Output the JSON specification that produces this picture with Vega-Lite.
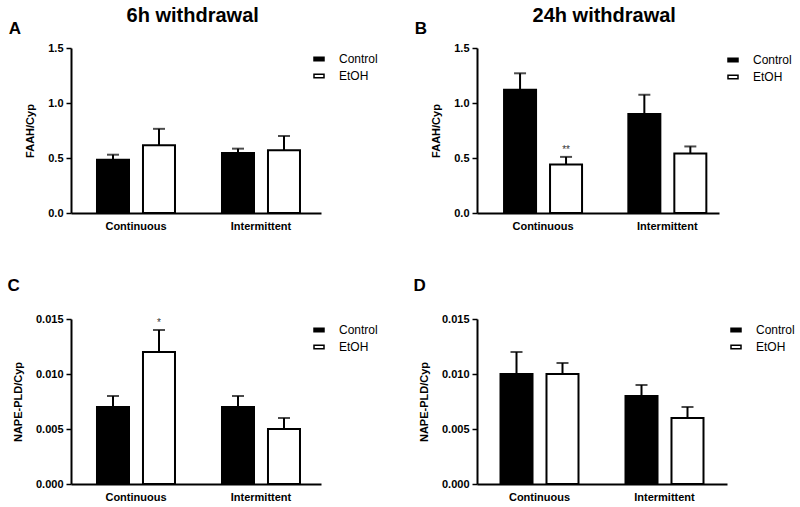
{
  "$schema": "https://vega.github.io/schema/vega-lite/v6.json",
  "padding": {"left": 7, "top": 6, "right": 0, "bottom": 0},
  "background": "white",
  "config": {
    "font": "Liberation Sans",
    "view": {"stroke": null},
    "axis": {"domainColor": "black", "domainWidth": 2, "tickColor": "black", "tickWidth": 1.5, "labelColor": "black", "titleColor": "black", "grid": false, "labelFontWeight": "bold", "labelFontSize": 11, "titleFontWeight": "bold", "titleFontSize": 11},
    "legend": {"padding": 0},
    "title": {"color": "black", "font": "Liberation Sans"}
  },
  "datasets": {
    "d": [
      {"panel": "A", "protocol": "Continuous", "treatment": "Control", "mean": 0.485, "upper": 0.53, "sig": ""},
      {"panel": "A", "protocol": "Continuous", "treatment": "EtOH", "mean": 0.615, "upper": 0.765, "sig": ""},
      {"panel": "A", "protocol": "Intermittent", "treatment": "Control", "mean": 0.545, "upper": 0.585, "sig": ""},
      {"panel": "A", "protocol": "Intermittent", "treatment": "EtOH", "mean": 0.57, "upper": 0.70, "sig": ""},
      {"panel": "B", "protocol": "Continuous", "treatment": "Control", "mean": 1.12, "upper": 1.27, "sig": ""},
      {"panel": "B", "protocol": "Continuous", "treatment": "EtOH", "mean": 0.44, "upper": 0.51, "sig": "**"},
      {"panel": "B", "protocol": "Intermittent", "treatment": "Control", "mean": 0.90, "upper": 1.075, "sig": ""},
      {"panel": "B", "protocol": "Intermittent", "treatment": "EtOH", "mean": 0.54, "upper": 0.605, "sig": ""},
      {"panel": "C", "protocol": "Continuous", "treatment": "Control", "mean": 0.007, "upper": 0.008, "sig": ""},
      {"panel": "C", "protocol": "Continuous", "treatment": "EtOH", "mean": 0.012, "upper": 0.014, "sig": "*"},
      {"panel": "C", "protocol": "Intermittent", "treatment": "Control", "mean": 0.007, "upper": 0.008, "sig": ""},
      {"panel": "C", "protocol": "Intermittent", "treatment": "EtOH", "mean": 0.005, "upper": 0.006, "sig": ""},
      {"panel": "D", "protocol": "Continuous", "treatment": "Control", "mean": 0.010, "upper": 0.012, "sig": ""},
      {"panel": "D", "protocol": "Continuous", "treatment": "EtOH", "mean": 0.010, "upper": 0.011, "sig": ""},
      {"panel": "D", "protocol": "Intermittent", "treatment": "Control", "mean": 0.008, "upper": 0.009, "sig": ""},
      {"panel": "D", "protocol": "Intermittent", "treatment": "EtOH", "mean": 0.006, "upper": 0.007, "sig": ""}
    ]
  },
  "hconcat": [
    {
      "title": {"text": "6h withdrawal", "fontSize": 20, "fontWeight": "bold", "anchor": "middle", "offset": -6},
      "spacing": 46,
      "resolve": {"scale": {"fill": "independent"}, "legend": {"fill": "independent"}},
      "vconcat": [
        {
          "title": {"text": "A", "fontSize": 17, "fontWeight": "bold", "anchor": "start", "frame": "bounds", "dx": -16, "offset": 4},
          "width": 250, "height": 165,
          "data": {"name": "d"},
          "transform": [{"filter": "datum.panel === 'A'"}],
          "encoding": {
            "x": {"field": "protocol", "type": "nominal", "sort": ["Continuous", "Intermittent"], "scale": {"paddingInner": 0.376, "paddingOuter": 0.188, "align": 0.553}, "axis": {"title": null, "ticks": false, "labelAngle": 0, "labelPadding": 7}},
            "xOffset": {"field": "treatment", "type": "nominal", "sort": ["Control", "EtOH"], "scale": {"paddingInner": 0.304, "paddingOuter": 0}},
            "y": {"field": "mean", "type": "quantitative", "scale": {"domain": [0, 1.5], "nice": false}, "axis": {"title": "FAAH/Cyp", "values": [0, 0.5, 1, 1.5], "format": ".1f", "tickSize": 5, "labelPadding": 3, "titlePadding": 12}}
          },
          "layer": [
            {"mark": {"type": "bar", "stroke": "black", "strokeWidth": 2}, "encoding": {"fill": {"field": "treatment", "type": "nominal", "scale": {"domain": ["Control", "EtOH"], "range": ["black", "white"]}, "legend": {"title": null, "orient": "none", "legendX": 242, "legendY": 5, "symbolType": "M-1,-0.36H1V0.36H-1Z", "symbolSize": 100, "symbolStrokeColor": "black", "symbolStrokeWidth": 1.5, "labelFontSize": 12, "labelOffset": 14, "rowPadding": 5}}}},
            {"mark": {"type": "rule", "color": "black", "strokeWidth": 2}, "encoding": {"y2": {"field": "upper"}}},
            {"mark": {"type": "tick", "color": "black", "size": 12, "thickness": 2}, "encoding": {"y": {"field": "upper", "type": "quantitative"}}},
            {"mark": {"type": "text", "dy": -7, "fontSize": 10, "fill": "#333333"}, "encoding": {"y": {"field": "upper", "type": "quantitative"}, "text": {"field": "sig"}}}
          ]
        },
        {
          "title": {"text": "C", "fontSize": 17, "fontWeight": "bold", "anchor": "start", "frame": "bounds", "dx": -5, "offset": 18},
          "width": 250, "height": 165,
          "data": {"name": "d"},
          "transform": [{"filter": "datum.panel === 'C'"}],
          "encoding": {
            "x": {"field": "protocol", "type": "nominal", "sort": ["Continuous", "Intermittent"], "scale": {"paddingInner": 0.376, "paddingOuter": 0.188, "align": 0.553}, "axis": {"title": null, "ticks": false, "labelAngle": 0, "labelPadding": 7}},
            "xOffset": {"field": "treatment", "type": "nominal", "sort": ["Control", "EtOH"], "scale": {"paddingInner": 0.304, "paddingOuter": 0}},
            "y": {"field": "mean", "type": "quantitative", "scale": {"domain": [0, 0.015], "nice": false}, "axis": {"title": "NAPE-PLD/Cyp", "values": [0, 0.005, 0.01, 0.015], "format": ".3f", "tickSize": 5, "labelPadding": 3, "titlePadding": 12}}
          },
          "layer": [
            {"mark": {"type": "bar", "stroke": "black", "strokeWidth": 2}, "encoding": {"fill": {"field": "treatment", "type": "nominal", "scale": {"domain": ["Control", "EtOH"], "range": ["black", "white"]}, "legend": {"title": null, "orient": "none", "legendX": 242, "legendY": 5, "symbolType": "M-1,-0.36H1V0.36H-1Z", "symbolSize": 100, "symbolStrokeColor": "black", "symbolStrokeWidth": 1.5, "labelFontSize": 12, "labelOffset": 14, "rowPadding": 5}}}},
            {"mark": {"type": "rule", "color": "black", "strokeWidth": 2}, "encoding": {"y2": {"field": "upper"}}},
            {"mark": {"type": "tick", "color": "black", "size": 12, "thickness": 2}, "encoding": {"y": {"field": "upper", "type": "quantitative"}}},
            {"mark": {"type": "text", "dy": -7, "fontSize": 10, "fill": "#333333"}, "encoding": {"y": {"field": "upper", "type": "quantitative"}, "text": {"field": "sig"}}}
          ]
        }
      ]
    },
    {
      "title": {"text": "24h withdrawal", "fontSize": 20, "fontWeight": "bold", "anchor": "middle", "offset": -6},
      "spacing": 46,
      "align": "none",
      "resolve": {"scale": {"fill": "independent"}, "legend": {"fill": "independent"}},
      "vconcat": [
        {
          "title": {"text": "B", "fontSize": 17, "fontWeight": "bold", "anchor": "start", "frame": "bounds", "dx": -16, "offset": 4},
          "width": 242, "height": 165,
          "data": {"name": "d"},
          "transform": [{"filter": "datum.panel === 'B'"}],
          "encoding": {
            "x": {"field": "protocol", "type": "nominal", "sort": ["Continuous", "Intermittent"], "scale": {"paddingInner": 0.373, "paddingOuter": 0.16, "align": 0.68}, "axis": {"title": null, "ticks": false, "labelAngle": 0, "labelPadding": 7}},
            "xOffset": {"field": "treatment", "type": "nominal", "sort": ["Control", "EtOH"], "scale": {"paddingInner": 0.304, "paddingOuter": 0}},
            "y": {"field": "mean", "type": "quantitative", "scale": {"domain": [0, 1.5], "nice": false}, "axis": {"title": "FAAH/Cyp", "values": [0, 0.5, 1, 1.5], "format": ".1f", "tickSize": 5, "labelPadding": 3, "titlePadding": 12}}
          },
          "layer": [
            {"mark": {"type": "bar", "stroke": "black", "strokeWidth": 2}, "encoding": {"fill": {"field": "treatment", "type": "nominal", "scale": {"domain": ["Control", "EtOH"], "range": ["black", "white"]}, "legend": {"title": null, "orient": "none", "legendX": 250, "legendY": 6, "symbolType": "M-1,-0.36H1V0.36H-1Z", "symbolSize": 100, "symbolStrokeColor": "black", "symbolStrokeWidth": 1.5, "labelFontSize": 12, "labelOffset": 14, "rowPadding": 5}}}},
            {"mark": {"type": "rule", "color": "black", "strokeWidth": 2}, "encoding": {"y2": {"field": "upper"}}},
            {"mark": {"type": "tick", "color": "black", "size": 12, "thickness": 2}, "encoding": {"y": {"field": "upper", "type": "quantitative"}}},
            {"mark": {"type": "text", "dy": -7, "fontSize": 10, "fill": "#333333"}, "encoding": {"y": {"field": "upper", "type": "quantitative"}, "text": {"field": "sig"}}}
          ]
        },
        {
          "title": {"text": "D", "fontSize": 17, "fontWeight": "bold", "anchor": "start", "frame": "bounds", "dx": -5, "offset": 18},
          "width": 250, "height": 165,
          "data": {"name": "d"},
          "transform": [{"filter": "datum.panel === 'D'"}],
          "encoding": {
            "x": {"field": "protocol", "type": "nominal", "sort": ["Continuous", "Intermittent"], "scale": {"paddingInner": 0.376, "paddingOuter": 0.188}, "axis": {"title": null, "ticks": false, "labelAngle": 0, "labelPadding": 7}},
            "xOffset": {"field": "treatment", "type": "nominal", "sort": ["Control", "EtOH"], "scale": {"paddingInner": 0.304, "paddingOuter": 0}},
            "y": {"field": "mean", "type": "quantitative", "scale": {"domain": [0, 0.015], "nice": false}, "axis": {"title": "NAPE-PLD/Cyp", "values": [0, 0.005, 0.01, 0.015], "format": ".3f", "tickSize": 5, "labelPadding": 3, "titlePadding": 12}}
          },
          "layer": [
            {"mark": {"type": "bar", "stroke": "black", "strokeWidth": 2}, "encoding": {"fill": {"field": "treatment", "type": "nominal", "scale": {"domain": ["Control", "EtOH"], "range": ["black", "white"]}, "legend": {"title": null, "orient": "none", "legendX": 253, "legendY": 5, "symbolType": "M-1,-0.36H1V0.36H-1Z", "symbolSize": 100, "symbolStrokeColor": "black", "symbolStrokeWidth": 1.5, "labelFontSize": 12, "labelOffset": 14, "rowPadding": 5}}}},
            {"mark": {"type": "rule", "color": "black", "strokeWidth": 2}, "encoding": {"y2": {"field": "upper"}}},
            {"mark": {"type": "tick", "color": "black", "size": 12, "thickness": 2}, "encoding": {"y": {"field": "upper", "type": "quantitative"}}},
            {"mark": {"type": "text", "dy": -7, "fontSize": 10, "fill": "#333333"}, "encoding": {"y": {"field": "upper", "type": "quantitative"}, "text": {"field": "sig"}}}
          ]
        }
      ]
    }
  ],
  "spacing": 35,
  "resolve": {"scale": {"fill": "independent"}, "legend": {"fill": "independent"}}
}
